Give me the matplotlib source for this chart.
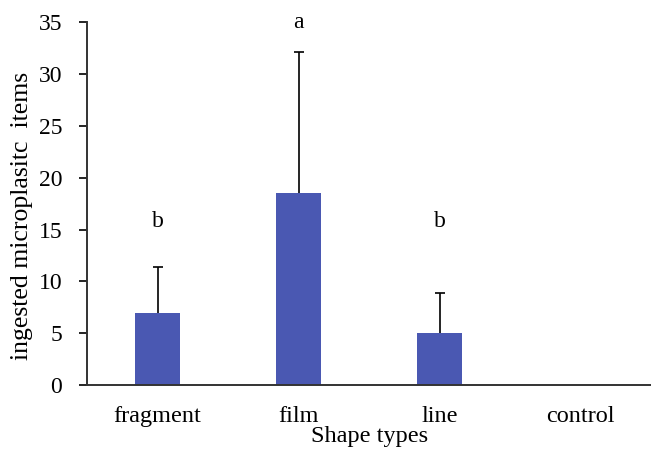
import numpy as np
import matplotlib.pyplot as plt

plt.rcParams['font.family'] = ['Liberation Serif', 'DejaVu Serif']

shapes = ['fragment', 'film', 'line', 'control']
means = [7.0, 18.5, 5.0, 0.0]
errs = [4.4, 13.6, 3.9, 0.0]
letters = ['b', 'a', 'b', '']
letter_y = [15.8, 35.0, 15.8, 0]

fig = plt.figure(figsize=(6.51, 4.51), dpi=100)
ax = fig.add_axes([0.134, 0.146, 0.866, 0.805])

x = np.arange(len(shapes))
ax.bar(x, means, width=0.32, color='#4a58b2')
tops = np.array(means[:3]) + np.array(errs[:3])
ax.vlines(x[:3], means[:3], tops, color='black', lw=1.2)
ax.plot(x[:3], tops, ls='none', marker='_', ms=7, mew=1.2, color='black')

for xi, t, ty in zip(x, letters, letter_y):
    if t:
        ax.text(xi, ty, t, ha='center', va='center', fontsize=17, clip_on=False)

ax.set_xlim(-0.5, 3.5)
ax.set_ylim(0, 35)
ax.set_yticks(np.arange(0, 36, 5))
ax.set_xticks(x)
ax.set_xticklabels(shapes, fontsize=17.5)
ax.tick_params(axis='y', labelsize=17, length=6, width=1.2, direction='out', pad=12)
ax.tick_params(axis='x', length=0, pad=15)
for s in ['top', 'right']:
    ax.spines[s].set_visible(False)
for s in ['left', 'bottom']:
    ax.spines[s].set_linewidth(1.4)
    ax.spines[s].set_color('#333333')

ax.set_ylabel('ingested microplasitc  items', fontsize=18.5)
ax.yaxis.set_label_coords(-0.097, 0.465)
ax.set_xlabel('Shape types', fontsize=17.5, labelpad=-1)

fig.savefig('out.png', dpi=100)
